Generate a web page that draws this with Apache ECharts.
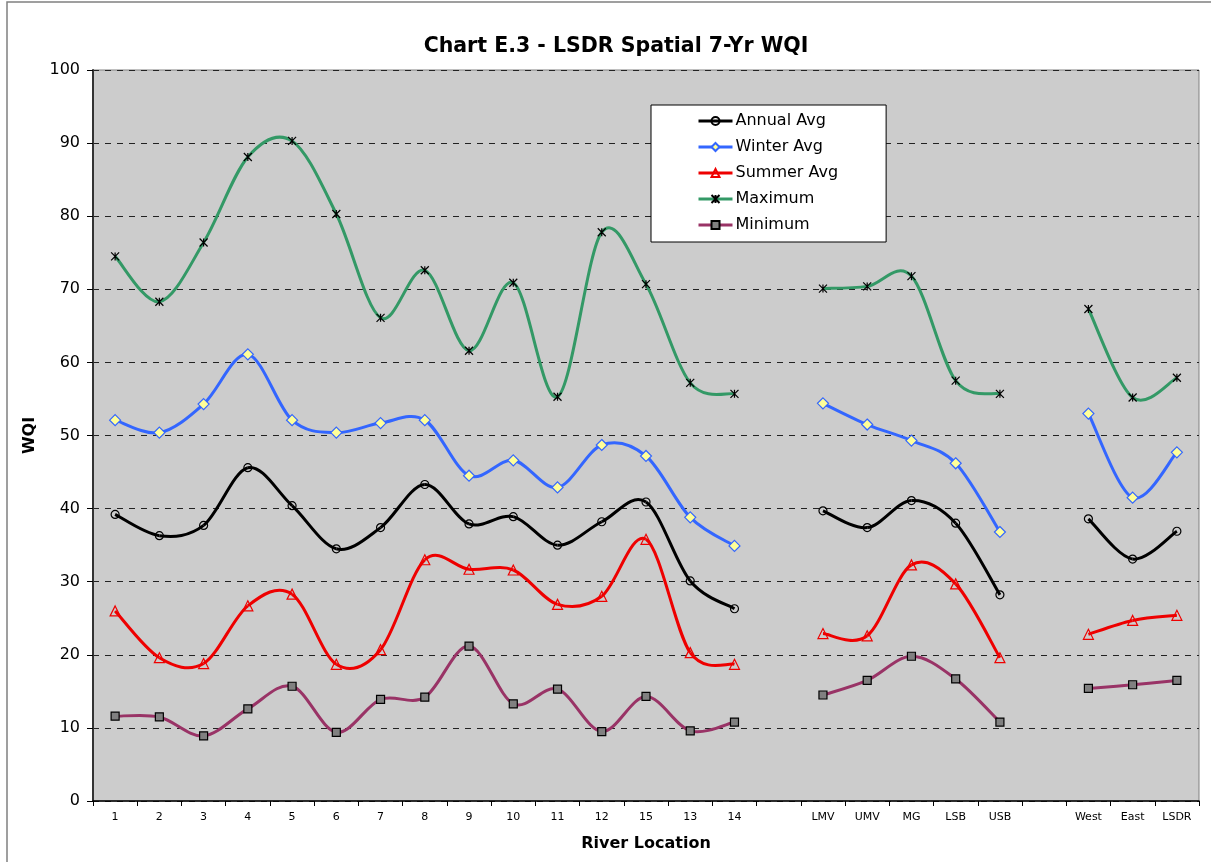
<!DOCTYPE html>
<html>
<head>
<meta charset="utf-8">
<title>Chart E.3 - LSDR Spatial 7-Yr WQI</title>
<script src="https://cdn.jsdelivr.net/npm/echarts@6/dist/echarts.min.js"></script>
<style>
  html, body { margin: 0; padding: 0; background: #fff; }
  #chart { width: 1211px; height: 862px; }
</style>
</head>
<body>
<div id="chart"></div>
<script>
// river locations (blank entries separate the groups)
const locations = ['1', '2', '3', '4', '5', '6', '7', '8', '9', '10', '11', '12', '15', '13', '14', '',
  'LMV', 'UMV', 'MG', 'LSB', 'USB', '', 'West', 'East', 'LSDR']

const annualAvg = [39.2, 36.3, 37.7, 45.6, 40.4, 34.5, 37.4, 43.3, 37.9, 38.9, 35.0, 38.2, 40.9, 30.1, 26.3, null,
  39.7, 37.4, 41.1, 38.0, 28.2, null, 38.6, 33.1, 36.9]
const winterAvg = [52.1, 50.4, 54.3, 61.1, 52.1, 50.4, 51.7, 52.1, 44.5, 46.6, 42.9, 48.7, 47.2, 38.8, 34.9, null,
  54.4, 51.5, 49.3, 46.2, 36.8, null, 53.0, 41.5, 47.7]
const summerAvg = [26.0, 19.6, 18.8, 26.7, 28.3, 18.7, 20.7, 33.0, 31.7, 31.6, 26.9, 28.0, 35.8, 20.3, 18.7, null,
  22.9, 22.6, 32.3, 29.7, 19.6, null, 22.8, 24.7, 25.4]
const maximum = [74.5, 68.3, 76.4, 88.1, 90.3, 80.3, 66.1, 72.6, 61.6, 70.9, 55.3, 77.8, 70.7, 57.2, 55.7, null,
  70.1, 70.4, 71.8, 57.5, 55.7, null, 67.3, 55.2, 57.9]
const minimum = [11.6, 11.5, 8.9, 12.6, 15.7, 9.4, 13.9, 14.2, 21.2, 13.3, 15.3, 9.5, 14.3, 9.6, 10.8, null,
  14.5, 16.5, 19.8, 16.7, 10.8, null, 15.4, 15.9, 16.5]

const FONT = 'DejaVu Sans'
const starPath = 'path://M0,0L10,10M10,0L0,10M5,0L5,10'

// markers only; the curve itself is drawn by curveSeries below
const markerSeries = (name, data, symbol, size, fill, border) => ({
  name,
  type: 'line',
  data,
  connectNulls: false,
  symbol,
  symbolSize: size,
  showAllSymbol: true,
  lineStyle: { opacity: 0 },
  itemStyle: { color: fill, borderColor: border, borderWidth: 1.2 },
  emphasis: { disabled: true },
  z: 4
})

// excel-like smoothed line (catmull-rom as bezier), one segment per data item
const curveSeries = (name, values, color) => ({
  name: name + ' line',
  type: 'custom',
  silent: true,
  z: 3,
  data: values.map((v, i) => [i, v]),
  encode: { x: 0, y: 1 },
  renderItem: (params, api) => {
    const i = params.dataIndex
    if (i + 1 >= values.length || values[i] == null || values[i + 1] == null) return
    const pt = k => api.coord([k, values[k]])
    const p1 = pt(i)
    const p2 = pt(i + 1)
    const p0 = (i > 0 && values[i - 1] != null) ? pt(i - 1) : p1
    const p3 = (i + 2 < values.length && values[i + 2] != null) ? pt(i + 2) : p2
    return {
      type: 'bezierCurve',
      shape: {
        x1: p1[0], y1: p1[1], x2: p2[0], y2: p2[1],
        cpx1: p1[0] + (p2[0] - p0[0]) / 6, cpy1: p1[1] + (p2[1] - p0[1]) / 6,
        cpx2: p2[0] - (p3[0] - p1[0]) / 6, cpy2: p2[1] - (p3[1] - p1[1]) / 6
      },
      style: { stroke: color, lineWidth: 3, fill: null }
    }
  }
})

const lineColors = {
  'Annual Avg': '#000000',
  'Winter Avg': '#3366ff',
  'Summer Avg': '#ee0000',
  'Maximum': '#339966',
  'Minimum': '#993366'
}

const chart = echarts.init(document.getElementById('chart'), null, { renderer: 'canvas' })

chart.setOption({
  animation: false,
  backgroundColor: '#fff',
  textStyle: { fontFamily: FONT },
  title: {
    text: 'Chart E.3 - LSDR Spatial 7-Yr WQI',
    left: 611,
    textAlign: 'center',
    top: 31,
    textStyle: { fontFamily: FONT, fontSize: 20.5, fontWeight: 'bold', color: '#000' }
  },
  graphic: [{
    type: 'rect',
    shape: { x: 7, y: 2, width: 1215, height: 880 },
    style: { fill: 'none', stroke: '#808080', lineWidth: 1.5 },
    silent: true
  }],
  legend: {
    orient: 'vertical',
    left: 651,
    top: 105,
    padding: [8, 48, 9, 46],
    itemGap: 10,
    itemWidth: 34,
    itemHeight: 10,
    backgroundColor: '#fff',
    borderColor: '#000',
    borderWidth: 1,
    textStyle: { fontFamily: FONT, fontSize: 16, color: '#000', padding: [0, 0, 0, -2] },
    data: Object.keys(lineColors).map(n => ({
      name: n,
      lineStyle: { color: lineColors[n], width: 3, opacity: 1 }
    }))
  },
  grid: {
    left: 93,
    right: 12,
    top: 70,
    bottom: 61,
    show: true,
    backgroundColor: '#cccccc',
    borderColor: '#808080',
    borderWidth: 1
  },
  xAxis: {
    type: 'category',
    data: locations,
    boundaryGap: true,
    name: 'River Location',
    nameLocation: 'middle',
    nameGap: 35,
    nameTextStyle: { fontFamily: FONT, fontSize: 16, fontWeight: 'bold', color: '#000' },
    axisLine: { lineStyle: { color: '#000', width: 1.5 } },
    axisTick: { show: true, length: 5, interval: 0, lineStyle: { color: '#000' } },
    axisLabel: { interval: 0, fontFamily: FONT, fontSize: 11, color: '#000', margin: 11 },
    splitLine: { show: false }
  },
  yAxis: {
    type: 'value',
    min: 0,
    max: 100,
    interval: 10,
    name: 'WQI',
    nameLocation: 'middle',
    nameGap: 55,
    nameTextStyle: { fontFamily: FONT, fontSize: 16, fontWeight: 'bold', color: '#000' },
    axisLine: { show: true, lineStyle: { color: '#333', width: 2 } },
    axisTick: { show: true, length: 6, lineStyle: { color: '#000' } },
    axisLabel: { fontFamily: FONT, fontSize: 16, color: '#000', margin: 13 },
    splitLine: { show: true, lineStyle: { color: '#222', width: 1, type: [6, 6] } }
  },
  series: [
    markerSeries('Annual Avg', annualAvg, 'circle', 8, 'rgba(0,0,0,0)', '#000'),
    markerSeries('Winter Avg', winterAvg, 'diamond', 11, '#ffff99', '#3366ff'),
    markerSeries('Summer Avg', summerAvg, 'triangle', 10, 'rgba(0,0,0,0)', '#ee0000'),
    markerSeries('Maximum', maximum, starPath, 8, '#000', '#000'),
    markerSeries('Minimum', minimum, 'rect', 8, '#808080', '#000'),
    curveSeries('Annual Avg', annualAvg, lineColors['Annual Avg']),
    curveSeries('Winter Avg', winterAvg, lineColors['Winter Avg']),
    curveSeries('Summer Avg', summerAvg, lineColors['Summer Avg']),
    curveSeries('Maximum', maximum, lineColors['Maximum']),
    curveSeries('Minimum', minimum, lineColors['Minimum'])
  ]
})
</script>
</body>
</html>
